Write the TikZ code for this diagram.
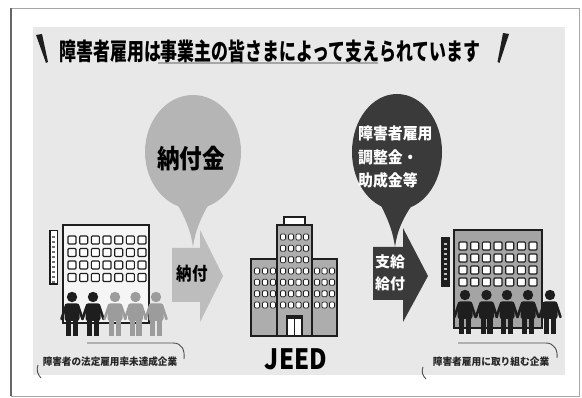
\documentclass[tikz,border=0pt]{standalone}
\usepackage{fontspec}
\newfontfamily\jp{Noto Sans CJK JP}
\usetikzlibrary{shapes.geometric}
\definecolor{panel}{HTML}{E8E8E8}
\definecolor{lightbub}{HTML}{B5B5B5}
\definecolor{lightarrow}{HTML}{BDBDBD}
\definecolor{darkbub}{HTML}{3A3A3A}
\definecolor{ink}{HTML}{1E1E1E}
\definecolor{grayfig}{HTML}{9C9C9C}
\definecolor{bldgray}{HTML}{A4A4A4}

% one person: x, head y, colour
\newcommand\personfig[3]{%
  \fill[#3] (#1,#2) circle (5.2);
  \fill[#3, rounded corners=2.5] (#1-7.5,#2+24) rectangle (#1+7.5,#2+6.5);
  \fill[#3] (#1-6,#2+22) rectangle (#1-0.8,#2+39);
  \fill[#3] (#1+0.8,#2+22) rectangle (#1+6,#2+39);
  \draw[#3, line width=2.6, line cap=round] (#1-6.5,#2+10) -- (#1-10.5,#2+22);
  \draw[#3, line width=2.6, line cap=round] (#1+6.5,#2+10) -- (#1+10.5,#2+22);
}

\tikzset{
  win/.style={draw=ink, fill=white, line width=1.1, rounded corners=1},
  jwin/.style={draw=ink, fill=white, line width=0.8, rounded corners=1.2},
  bldg/.style={draw=ink, line width=1.3},
  jptext/.style={font=\jp\bfseries, inner sep=0},
  bracket/.style={draw=black!70, line width=0.9},
}

\begin{document}
\begin{tikzpicture}[x=1pt,y=-1pt]
\useasboundingbox (0,0) rectangle (582,398);
\fill[white] (0,0) rectangle (582,398);

% outer frame
\draw[black!35, line width=0.8] (11,8) rectangle (579,396);
\draw[black!60, line width=2] (11,8) -- (11,396);

% grey panel
\fill[panel] (33,27) rectangle (565,375);

% heading
\fill[black!35] (158,62) rectangle (378,64.5);
\node[jptext, font=\jp\bfseries\fontsize{24}{24}\selectfont] (title) at (270,51)
  {\scalebox{0.705}[1]{障害者雇用は事業主の皆さまによって支えられています}};
\fill[ink] (36,35) -- (42,34) -- (48,62) -- (46,63) -- cycle;
\fill[ink] (503,33) -- (509,34) -- (499.5,63) -- (497.5,62) -- cycle;

% levy bubble
\node[ellipse, fill=lightbub, minimum width=96, minimum height=114, inner sep=0] (levy) at (193,152) {};
\coordinate (levytip) at (193,247);
\fill[lightbub] ([xshift=-20]levy.south) ++(0,-12) .. controls (186,218) and (191,232) .. (levytip)
  .. controls (195,232) and (200,218) .. ([xshift=20,yshift=12]levy.south) -- cycle;
\node[jptext, font=\jp\bfseries\fontsize{26}{26}\selectfont] (levytext) at (191,159)
  {\scalebox{0.87}[1]{納付金}};

% grant bubble
\node[ellipse, fill=darkbub, minimum width=90, minimum height=116, inner sep=0] (grant) at (397,152) {};
\coordinate (granttip) at (395,247);
\fill[darkbub] ([xshift=-20]grant.south) ++(0,-12) .. controls (388,218) and (393,232) .. (granttip)
  .. controls (397,232) and (402,218) .. ([xshift=20,yshift=12]grant.south) -- cycle;
\node[jptext, white, font=\jp\bfseries\fontsize{16}{23.5}\selectfont, align=left, anchor=north west] (granttext) at (358,126)
  {\scalebox{0.93}[1]{障害者雇用}\\\scalebox{0.93}[1]{調整金・}\\\scalebox{0.93}[1]{助成金等}};

% payment arrow
\fill[lightarrow] (172,248) -- (200,248) -- (200,230) -- (223,276) -- (200,322) -- (200,302) -- (172,302) -- cycle;
\node[jptext, font=\jp\bfseries\fontsize{18}{18}\selectfont] (paytext) at (192,274)
  {\scalebox{0.86}[1]{納付}};

% grant arrow
\fill[darkbub] (373,247) -- (403,247) -- (403,228) -- (428,276) -- (403,322) -- (403,300) -- (373,300) -- cycle;
\node[jptext, white, font=\jp\bfseries\fontsize{15}{22}\selectfont, align=center] (granttxt2) at (390,273)
  {支給\\給付};

% left company
\fill[black!90] (49,230) rectangle (58,285);
\fill[white] (50.5,231.5) rectangle (56.5,283.5);
\foreach \yy in {236,241,...,281} \fill[black!55] (52.2,\yy) rectangle (54.8,\yy+2.5);
\filldraw[bldg, fill=white!96!black] (63,225) rectangle (149,323);
\foreach \cx in {72,83.7,95.3,107,118.7,130.3,142}
  \foreach \cy in {240,252.5,265,277.5}
    \draw[win] (\cx-4,\cy-4) rectangle (\cx+4,\cy+4);
\personfig{72}{297}{ink}
\personfig{93}{297}{ink}
\personfig{115}{297}{grayfig}
\personfig{135.5}{297}{grayfig}
\personfig{156}{297}{grayfig}
\node[jptext, font=\jp\bfseries\fontsize{10}{10}\selectfont, black!85] (leftlabel) at (110,362)
  {\scalebox{0.96}[1]{障害者の法定雇用率未達成企業}};
\draw[bracket] (87,343) -- (173,343) .. controls (182,343) and (185,350) .. (184,359);
\draw[bracket] (38,365) .. controls (36,370) and (38,375) .. (41,378);

% JEED building
\filldraw[bldg, fill=white] (284,217) rectangle (305,225);
\filldraw[bldg, fill=bldgray!90] (251,259) rectangle (277,336);
\filldraw[bldg, fill=bldgray!90] (312,259) rectangle (337,336);
\filldraw[bldg, fill=bldgray!90] (277,225) rectangle (312,336);
\foreach \cx in {283,291,298.5,306}
  \foreach \cy in {237,248.3,259.7,271,282.3,293.7,305}
    \draw[jwin] (\cx-2.6,\cy-3) rectangle (\cx+2.6,\cy+3);
\foreach \cx in {257,265,273,317,324.5,332}
  \foreach \cy in {271,282.3,293.7,305}
    \draw[jwin] (\cx-2.6,\cy-3) rectangle (\cx+2.6,\cy+3);
\filldraw[bldg, fill=white] (287,316) rectangle (302,336);
\draw[ink, line width=1.5] (294.5,317) -- (294.5,336);
\fill[ink] (287,316) rectangle (302,319);
\node[jptext, font=\jp\bfseries\fontsize{28}{28}\selectfont] (jeed) at (296,359)
  {\scalebox{0.86}[1]{JEED}};

% right company
\fill[ink] (441,237) rectangle (450,287);
\foreach \yy in {243,248,...,281} \fill[white!75!black] (444.3,\yy) rectangle (446.7,\yy+2.5);
\filldraw[bldg, fill=bldgray] (454,230) rectangle (542,328);
\foreach \cx in {463,474.7,486.3,498,509.7,521.3,533}
  \foreach \cy in {246,258,270,282}
    \draw[win] (\cx-4,\cy-4) rectangle (\cx+4,\cy+4);
\personfig{465}{295}{ink}
\personfig{486.5}{295}{ink}
\personfig{507}{295}{ink}
\personfig{528}{295}{ink}
\personfig{550}{295}{ink}
\node[jptext, font=\jp\bfseries\fontsize{10}{10}\selectfont, black!85] (rightlabel) at (491,362)
  {\scalebox{0.97}[1]{障害者雇用に取り組む企業}};
\draw[bracket] (458,343) -- (546,343) .. controls (554,343) and (558,350) .. (557,358);
\draw[bracket] (423,367) .. controls (421,372) and (423,376) .. (426,379);
\end{tikzpicture}
\end{document}
